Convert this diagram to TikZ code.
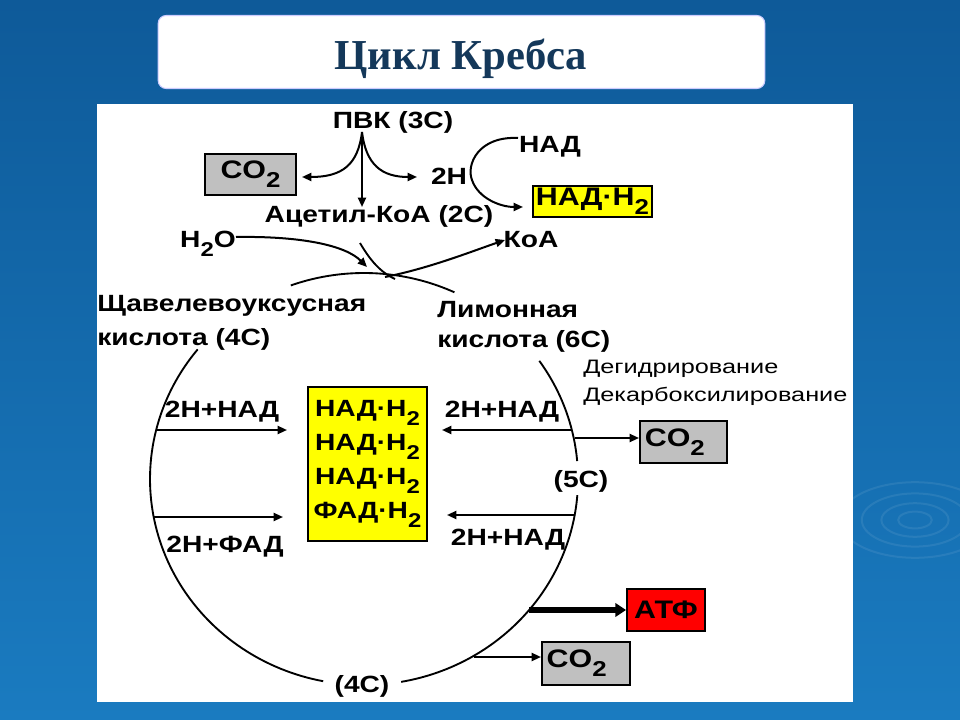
\documentclass[tikz,border=0pt]{standalone}
\usepackage{fontspec}
\newfontfamily\sansf[FakeStretch=1.2]{Liberation Sans}
\newfontfamily\sansr[FakeStretch=1.3]{Liberation Sans}
\newfontfamily\serff{Liberation Serif}
\usetikzlibrary{arrows.meta}
\definecolor{bgtop}{HTML}{0E5A99}
\definecolor{bgbot}{HTML}{1A7BC0}
\definecolor{titlec}{HTML}{14385A}
\definecolor{boxgray}{HTML}{C0C0C0}
\definecolor{ylw}{HTML}{FFFF00}
\definecolor{rd}{HTML}{FF0000}
\newcommand\mainf{\sansf\bfseries\fontsize{17.6}{21}\selectfont}
\newcommand\boxf{\sansf\bfseries\fontsize{19}{22}\selectfont}
\newcommand\smallf{\sansr\fontsize{14.6}{18}\selectfont}
\newcommand\lo[1]{\raisebox{-0.36em}{\scalebox{0.85}{#1}}}
\tikzset{
  lbl/.style={font=\mainf, inner sep=0pt},
  sm/.style={font=\smallf, inner sep=0pt},
  arr/.style={line width=1.5pt, -{Triangle[length=7pt,width=6pt]}},
  fatarr/.style={line width=3.8pt, -{Triangle[length=8pt,width=10pt]}},
  cyc/.style={line width=1.4pt},
  gbox/.style={draw, line width=1.5pt, fill=boxgray, font=\boxf, inner sep=2pt},
  ybox/.style={draw, line width=1.5pt, fill=ylw, font=\boxf, inner sep=2pt},
  rbox/.style={draw, line width=1.5pt, fill=rd, font=\boxf, inner sep=2pt},
  tbox/.style={fill=white, draw=white!80!blue, line width=0.8pt, rounded corners=6pt}
}
\begin{document}
\begin{tikzpicture}[x=0.75pt,y=-0.75pt]
\useasboundingbox (0,0) rectangle (960,720);
\shade[top color=bgtop,bottom color=bgbot] (0,0) rectangle (960,720);
\foreach \r in {12,24,38,54}{\draw[white,opacity=0.08,line width=1.5pt] (915,520) ellipse[x radius=\r*1.4, y radius=\r*0.7];}
\fill[white] (97,104) rectangle (853,702);
% title
\node[tbox, minimum width=455pt, minimum height=54.75pt] (tb) at (461.5,52) {};
\node[font=\serff\bfseries\fontsize{32}{36}\selectfont, text=titlec, anchor=base] (title) at (461,70) {Цикл Кребса};
% top part
\node[lbl,anchor=base] (pvk) at (393,129) {ПВК (3С)};
\node[gbox, minimum width=68.25pt, minimum height=30.75pt] (co2a) at (250.5,174.5) {CO\lo{2}};
\node[lbl,anchor=base] (h2) at (449,185) {2Н};
\node[lbl,anchor=base] (nad) at (550,153) {НАД};
\node[ybox, minimum width=89.25pt, minimum height=23.25pt] (nadh) at (592.5,201.5) {НАД·Н\lo{2}};
\node[lbl,anchor=base] (acet) at (379,223) {Ацетил-КоА (2С)};
\node[lbl,anchor=base] (h2o) at (208,248) {Н\lo{2}О};
\node[lbl,anchor=base] (koa) at (531,248) {КоА};
\coordinate (br) at (362,132);
\coordinate (coT) at (302,177);
\coordinate (hT) at (417,177);
\coordinate (acT) at (362,207);
\draw[arr] (br) .. controls (358,165) and (342,177) .. (coT);
\draw[arr] (br) .. controls (366,165) and (382,177) .. (hT);
\draw[arr] (br) -- (acT);
\coordinate (nadS) at (518,138);
\coordinate (nadT) at (523,207);
\draw[arr] (nadS) .. controls (478,136) and (466,165) .. (472,180) .. controls (478,198) and (500,207) .. (nadT);
\coordinate (h2oS) at (236,237);
\coordinate (h2oT) at (367,267);
\draw[arr] (h2oS) .. controls (300,236) and (345,245) .. (h2oT);
\coordinate (acS) at (360,243);
\coordinate (acE) at (395,279);
\draw[cyc] (acS) .. controls (370,260) and (380,272) .. (acE);
\coordinate (koaS) at (385,277);
\coordinate (koaT) at (505,240);
\draw[arr] (koaS) .. controls (430,268) and (470,252) .. (koaT);
% cycle
\draw[cyc] plot[domain=-110:-65, samples=40] ({364+214*cos(\x)},{479+206*sin(\x)});
\draw[cyc] plot[domain=-35:-5, samples=30] ({364+214*cos(\x)},{479+206*sin(\x)});
\draw[cyc] plot[domain=4.5:80, samples=60] ({364+214*cos(\x)},{479+206*sin(\x)});
\draw[cyc] plot[domain=101:219, samples=80] ({364+214*cos(\x)},{479+206*sin(\x)});
\node[lbl,anchor=base west] (oxa1) at (97,311) {Щавелевоуксусная};
\node[lbl,anchor=base west] (oxa2) at (97,345) {кислота (4С)};
\node[lbl,anchor=base west] (cit1) at (437,317) {Лимонная};
\node[lbl,anchor=base west] (cit2) at (437,347) {кислота (6С)};
\node[sm,anchor=base west] (deh) at (583,373) {Дегидрирование};
\node[sm,anchor=base west] (dec) at (583,401) {Декарбоксилирование};
% center box
\node[ybox, font=\sansf\bfseries\fontsize{17.6}{25.5}\selectfont, align=center, minimum width=89.25pt, minimum height=115.5pt] (yb) at (367.5,464) {НАД·Н\lo{2}\\НАД·Н\lo{2}\\НАД·Н\lo{2}\\ФАД·Н\lo{2}};
\node[lbl,anchor=base] (lu) at (222,417) {2Н+НАД};
\node[lbl,anchor=base] (ll) at (225,552) {2Н+ФАД};
\node[lbl,anchor=base] (ru) at (502,417) {2Н+НАД};
\node[lbl,anchor=base] (rl) at (508,545) {2Н+НАД};
\node[lbl,anchor=base] (c5) at (581,487) {(5С)};
\node[lbl,anchor=base] (c4) at (362,692) {(4С)};
\coordinate (luS) at (156,430);
\coordinate (luT) at (287,430);
\draw[arr] (luS) -- (luT);
\coordinate (llS) at (153,517);
\coordinate (llT) at (283,517);
\draw[arr] (llS) -- (llT);
\coordinate (ruS) at (572,430);
\coordinate (ruT) at (442,430);
\draw[arr] (ruS) -- (ruT);
\coordinate (rlS) at (575,515);
\coordinate (rlT) at (447,515);
\draw[arr] (rlS) -- (rlT);
% right boxes
\node[gbox, minimum width=65.25pt, minimum height=31.5pt, text width=58pt, align=left, inner xsep=3pt] (co2b) at (683.5,442) {CO\lo{2}};
\node[rbox, minimum width=58.5pt, minimum height=31.5pt] (atp) at (666,610) {АТФ};
\node[gbox, minimum width=66pt, minimum height=32.25pt, text width=59pt, align=left, inner xsep=3pt] (co2c) at (586,663.5) {CO\lo{2}};
\coordinate (cbS) at (575,438);
\draw[arr] (cbS) -- (cbS -| co2b.west);
\coordinate (atS) at (529,610);
\draw[fatarr] (atS) -- (atS -| atp.west);
\coordinate (ccS) at (474,657);
\draw[arr] (ccS) -- (ccS -| co2c.west);
\end{tikzpicture}
\end{document}
